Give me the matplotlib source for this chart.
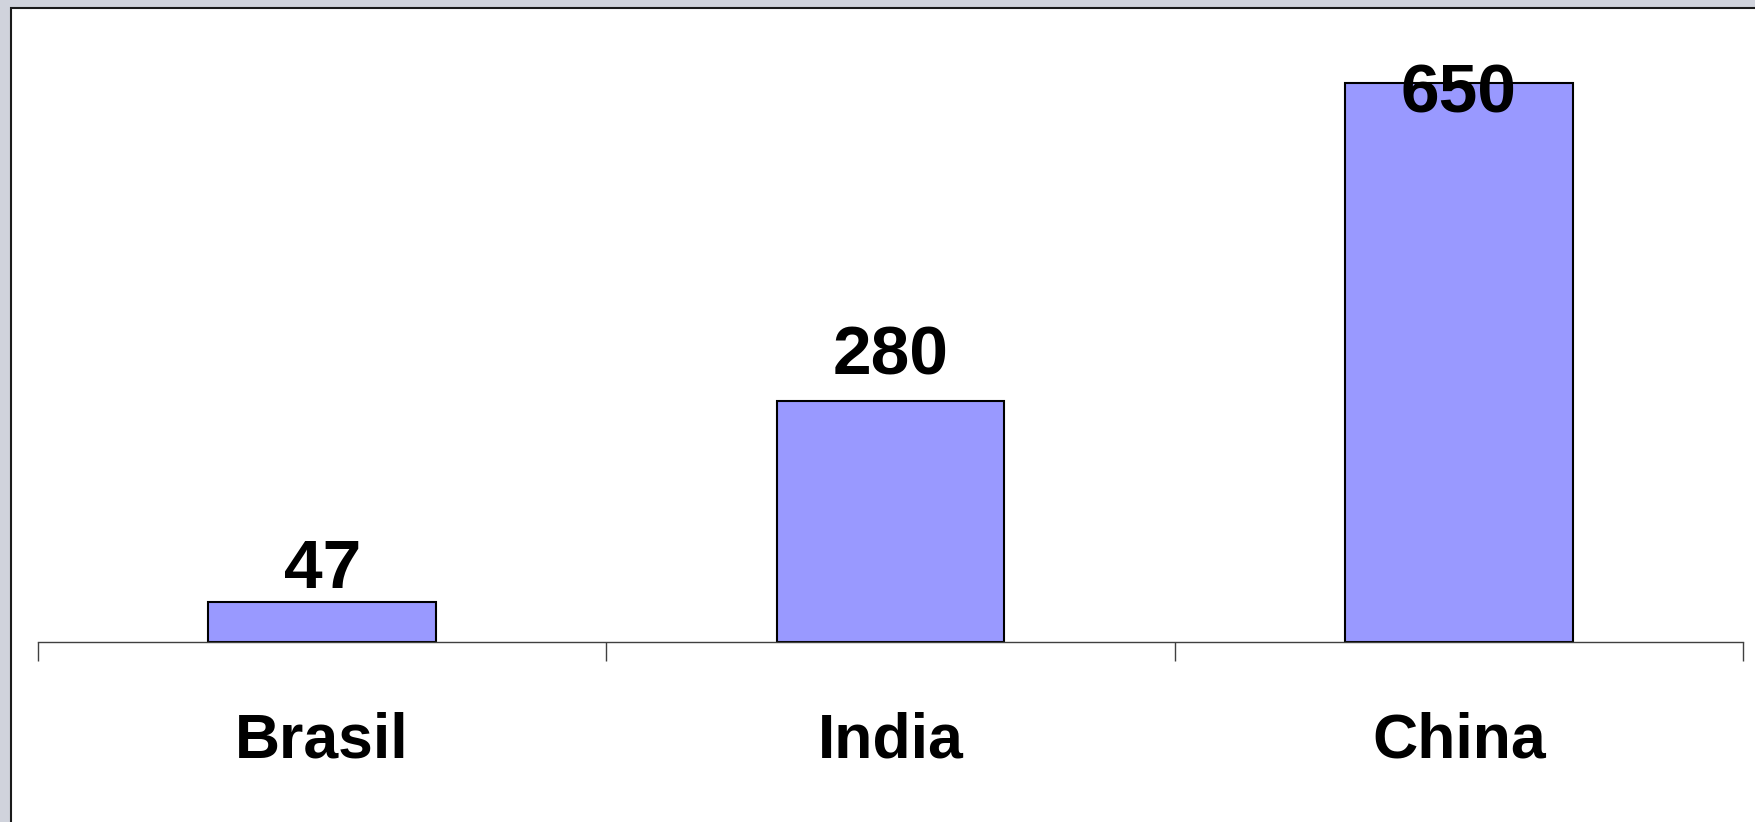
import matplotlib
matplotlib.use("Agg")
import matplotlib.pyplot as plt
from matplotlib.patches import Rectangle
import numpy as np

countries = ["Brasil", "India", "China"]
values = [47, 280, 650]

# baseline offset of each value label above the bar top (points)
label_offsets = [10, 19, -21]

W, H, DPI = 1756, 822, 100
BAR_COLOR = "#9999ff"
FONT = ["Liberation Sans Narrow", "Arial Narrow", "Liberation Sans", "DejaVu Sans"]

fig = plt.figure(figsize=(W / DPI, H / DPI), dpi=DPI)
fig.patch.set_facecolor("#d0d3dc")

# white chart panel with dark border on top/left (right/bottom run off canvas)
panel = Rectangle((11 / W, -0.05), 1, 1.05 - 8 / H, transform=fig.transFigure,
                  facecolor="white", edgecolor="#1a1a1a", linewidth=1.5, zorder=-1)
fig.patches.append(panel)

# axes placed in pixel terms: x 38..1743, baseline at y=642
ymax = 700
px_per_unit = 0.86
ax_bottom = (H - 642) / H
ax_height = ymax * px_per_unit / H
ax = fig.add_axes([38 / W, ax_bottom, (1743 - 38) / W, ax_height])
ax.set_facecolor("none")

x = np.arange(len(countries))
ax.bar(x, values, width=0.40, color=BAR_COLOR, edgecolor="black", linewidth=1.5, zorder=2)

for xi, v, dy in zip(x, values, label_offsets):
    ax.annotate(str(v), (xi, v), xytext=(0, dy), textcoords="offset points",
                ha="center", va="baseline", fontsize=50, fontweight="bold",
                family=FONT, zorder=3)

ax.set_xlim(-0.5, len(countries) - 0.5)
ax.set_ylim(0, ymax)

for side in ["top", "right", "left"]:
    ax.spines[side].set_visible(False)
ax.spines["bottom"].set_color("#404040")
ax.spines["bottom"].set_linewidth(1.0)
ax.set_yticks([])

ax.set_xticks(np.arange(len(countries) + 1) - 0.5)
ax.set_xticklabels([])
ax.tick_params(axis="x", which="major", direction="out", length=14, width=1.0, color="#404040")
ax.set_xticks(x, minor=True)
ax.set_xticklabels(countries, minor=True, fontsize=45, fontweight="bold", family=FONT)
ax.tick_params(axis="x", which="minor", length=0, pad=50)

fig.savefig("out.png", dpi=DPI, facecolor=fig.get_facecolor())
